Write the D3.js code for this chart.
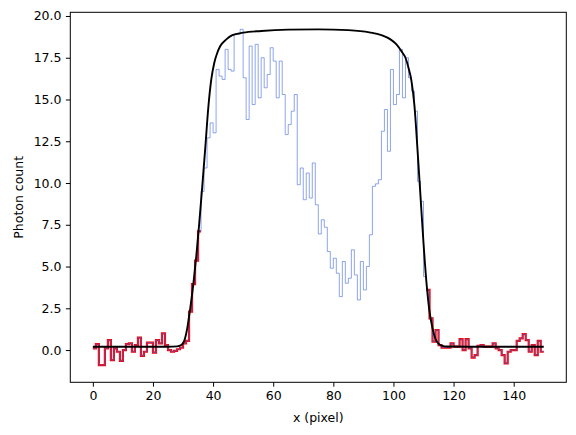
<!DOCTYPE html>
<html>
<head>
<meta charset="utf-8">
<script src="https://cdn.jsdelivr.net/npm/d3@7"></script>
<style>
  body { margin: 0; background: #fff; }
  svg text { font-family: "DejaVu Sans", sans-serif; fill: #000; }
</style>
</head>
<body>
<script>
// photon counts per pixel, bin i spans x = i .. i+1
var counts = [
  0.1, 0.35, -0.9, -0.9, 0.1, 0.6, -0.6, 0.1, -0.1, -0.65,
  0.0, 0.35, 0.4, -0.1, 0.3, 0.75, -0.35, -0.1, 0.45, 0.45,
  -0.15, 0.6, 0.4, 1.0, 0.3, 0.0, -0.1, -0.05, 0.05, 0.15,
  0.4, 0.55, 2.3, 3.95, 5.35, 7.1, 9.5, 10.9, 12.7, 13.6,
  13.0, 16.8, 16.4, 16.2, 18.0, 16.8, 16.7, 18.9, 18.9, 19.2,
  16.3, 13.8, 18.2, 14.7, 18.3, 15.1, 17.5, 15.7, 16.5, 18.1,
  17.3, 15.1, 17.3, 15.3, 12.9, 13.5, 14.3, 15.3, 9.9, 10.9,
  9.0, 10.6, 9.1, 11.2, 8.7, 6.95, 7.8, 7.35, 5.9, 4.9,
  5.5, 4.6, 3.2, 5.3, 4.0, 4.3, 6.0, 4.5, 3.0, 5.3,
  3.6, 5.0, 6.9, 9.8, 9.95, 10.2, 13.1, 14.4, 11.9, 16.8,
  14.7, 15.3, 18.0, 15.1, 17.5, 16.3, 15.5, 14.3, 10.1, 8.9,
  4.4, 3.6, 1.9, 0.5, 1.2, 0.3, 0.15, 0.15, 0.15, 0.4,
  0.2, 0.2, 0.65, 0.0, 0.65, 0.1, -0.45, -0.3, 0.25, 0.3,
  0.2, 0.2, 0.2, 0.4, 0.1, 0.0, -0.3, -0.8, -0.1, 0.0,
  0.0, 0.55, 0.7, 0.95, 0.6, -0.1, 0.3, -0.3, 0.55, -0.1
];

// background bins (outside the source), drawn again in red
var bgLeft = [0, 36],
    bgRight = [111, 150];

// fitted profile
var fitX = [0, 25, 28, 29.4, 30.4, 31.4, 32.4, 33.4, 34.4, 35.4, 36.4, 37.4, 38.4, 39.4, 40.4, 41.4, 42.4, 44.4, 46.4, 50,
            56, 65, 75, 85, 92, 96, 99, 101, 103, 104, 105, 106, 107, 108, 109, 110, 111, 112, 113, 114, 115, 116, 118, 125, 150];
var fitY = [0.2, 0.2, 0.22, 0.3, 0.55, 1.3, 2.5, 3.9, 5.6, 7.6, 9.8, 12.1, 14.5, 16.2, 17.2, 17.8, 18.2, 18.6, 18.85, 19.0,
            19.1, 19.18, 19.2, 19.15, 19.02, 18.85, 18.6, 18.3, 17.8, 17.5, 16.9, 16.1, 14.6, 12.0, 9.2, 6.4, 4.0, 2.3, 1.3, 0.65, 0.38, 0.27, 0.21, 0.2, 0.2];

var xTicks = [0, 20, 40, 60, 80, 100, 120, 140];
var yTicks = [0, 2.5, 5, 7.5, 10, 12.5, 15, 17.5, 20];

var width = 576, height = 435;
var plotLeft = 70.3, plotRight = 566.3, plotTop = 12.3, plotBottom = 382.3;

var svg = d3.select("body").append("svg")
    .attr("width", width)
    .attr("height", height);

var x = d3.scaleLinear().domain([-7.5, 157.5]).range([plotLeft, plotRight]);
var y = d3.scaleLinear().domain([-1.93, 20.22]).range([plotBottom, plotTop]);

// step points for bins a..b
function steps(a, b) {
    var pts = [];
    for (var i = a; i < b; i++) pts.push([i, counts[i]]);
    pts.push([b, counts[b - 1]]);
    return pts;
}

var stepLine = d3.line()
    .x(function(d) { return x(d[0]); })
    .y(function(d) { return y(d[1]); })
    .curve(d3.curveStepAfter);

// red background steps
[bgLeft, bgRight].forEach(function(r) {
    svg.append("path")
        .attr("d", stepLine(steps(r[0], r[1])))
        .style("fill", "none")
        .style("stroke", "red")
        .style("stroke-width", 2.2)
        .style("stroke-linejoin", "miter");
});

// all data, thin blue
svg.append("path")
    .attr("d", stepLine(steps(0, counts.length)))
    .style("fill", "none")
    .style("stroke", "royalblue")
    .style("stroke-opacity", 0.75)
    .style("stroke-width", 0.8);

// fit
var fitLine = d3.line()
    .x(function(d, i) { return x(fitX[i]); })
    .y(function(d) { return y(d); })
    .curve(d3.curveMonotoneX);

svg.append("path")
    .attr("d", fitLine(fitY))
    .style("fill", "none")
    .style("stroke", "#000")
    .style("stroke-width", 1.9);

// axes
var xAxis = d3.axisBottom(x).tickValues(xTicks).tickSize(4.4).tickPadding(4.4);
var yAxis = d3.axisLeft(y).tickValues(yTicks).tickFormat(d3.format(".1f")).tickSize(4.4).tickPadding(4.4);

var gx = svg.append("g").attr("transform", "translate(0," + plotBottom + ")").call(xAxis);
var gy = svg.append("g").attr("transform", "translate(" + plotLeft + ",0)").call(yAxis);

[gx, gy].forEach(function(g) {
    g.select(".domain").remove();
    g.selectAll(".tick line").style("stroke", "#000").style("stroke-width", 1);
    g.selectAll(".tick text").style("font-size", "12.5px").style("font-family", "DejaVu Sans");
});

svg.append("rect")
    .attr("x", plotLeft).attr("y", plotTop)
    .attr("width", plotRight - plotLeft).attr("height", plotBottom - plotTop)
    .style("fill", "none")
    .style("stroke", "#000")
    .style("stroke-width", 1);

svg.append("text")
    .attr("x", (plotLeft + plotRight) / 2)
    .attr("y", 422)
    .attr("text-anchor", "middle")
    .style("font-size", "12.5px")
    .text("x (pixel)");

svg.append("text")
    .attr("transform", "translate(22.5," + ((plotTop + plotBottom) / 2) + ") rotate(-90)")
    .attr("text-anchor", "middle")
    .style("font-size", "12.5px")
    .text("Photon count");
</script>
</body>
</html>
